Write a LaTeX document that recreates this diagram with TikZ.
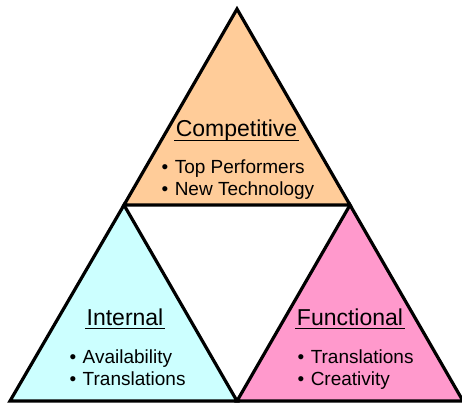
\documentclass[tikz,border=0pt]{standalone}
\usepackage{fontspec}
\setmainfont{Liberation Sans}
\usetikzlibrary{positioning}
\definecolor{compfill}{HTML}{FFCC99}
\definecolor{intfill}{HTML}{CCFFFF}
\definecolor{funcfill}{HTML}{FF99CC}
\newcommand{\bul}{\textbullet\hspace{6.5pt}}

\begin{document}
\begin{tikzpicture}[x=1pt, y=-1pt, line width=3.2pt,
    head/.style={inner sep=0pt, anchor=base, font=\fontsize{23}{26}\selectfont},
    item/.style={inner sep=0pt, anchor=base west, font=\fontsize{19}{22}\selectfont}]
  \useasboundingbox (0,0) rectangle (462,403);
  % corners of the three triangles
  \coordinate (apex) at (237,9);
  \coordinate (ml) at (124,205);
  \coordinate (mr) at (350,205);
  \coordinate (bl) at (10,401);
  \coordinate (bm) at (237,401);
  \coordinate (br) at (463,401);
  \filldraw[fill=compfill] (apex) -- (ml) -- (mr) -- cycle;
  \filldraw[fill=intfill] (ml) -- (bl) -- (bm) -- cycle;
  \filldraw[fill=funcfill] (mr) -- (bm) -- (br) -- cycle;
  % headings, underlined by hand
  \node[head] (comp) at (236.5,137) {Competitive};
  \node[head] (int) at (125,325) {Internal};
  \node[head] (func) at (350,325) {Functional};
  \foreach \h in {comp, int, func}
    \draw[line width=1.7pt] ([yshift=-3.5pt]\h.base west) -- ([yshift=-3.5pt]\h.base east);
  % bullet lists, one node per line
  \foreach \t [count=\i] in {Top Performers, New Technology}
    \node[item] (comp\i) at (160,152+22*\i) {\bul \t};
  \foreach \t [count=\i] in {Availability, Translations}
    \node[item] (int\i) at (68,341+22*\i) {\bul \t};
  \foreach \t [count=\i] in {Translations, Creativity}
    \node[item] (func\i) at (296,341+22*\i) {\bul \t};
\end{tikzpicture}
\end{document}
